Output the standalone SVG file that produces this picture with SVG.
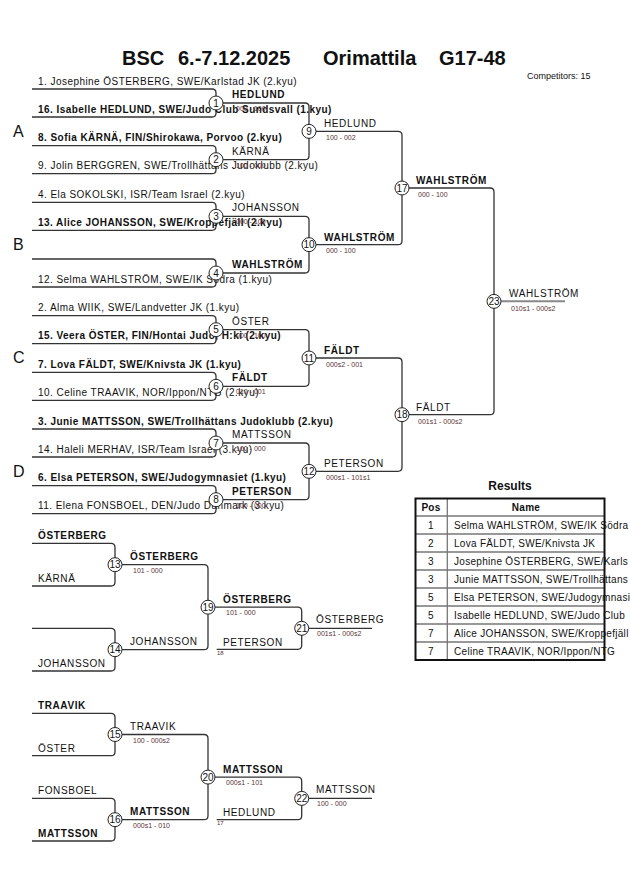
<svg xmlns="http://www.w3.org/2000/svg" width="630" height="891" viewBox="0 0 630 891">
<style>
text{font-family:"Liberation Sans",Arial,sans-serif;fill:#111}
.ln{fill:none;stroke:#333;stroke-width:1.3}
.c{fill:#fff;stroke:#222;stroke-width:1}
.n{font-size:10px;text-anchor:middle}
.e{font-size:10px;letter-spacing:0.45px}
.r{font-size:10px;letter-spacing:0.3px}
.b{font-weight:bold}
.w{font-size:10px;letter-spacing:0.6px}
.s{font-size:7px;fill:#5a3434}
.t{font-size:6px;fill:#5a3434}
.pl{font-size:16px}
.tg{fill:none;stroke:#777;stroke-width:1.3}
</style>
<rect width="630" height="891" fill="#fff"/>
<g id="title">
<text x="122" y="65" font-size="20" font-weight="bold">BSC</text>
<text x="178" y="65" font-size="20" font-weight="bold">6.-7.12.2025</text>
<text x="323" y="65" font-size="20" font-weight="bold">Orimattila</text>
<text x="439" y="65" font-size="20" font-weight="bold">G17-48</text>
<text x="527" y="79" font-size="9">Competitors: 15</text>
</g>
<g id="pools">
<text class="pl" x="13" y="136.7">A</text>
<text class="pl" x="13" y="250">B</text>
<text class="pl" x="13" y="363">C</text>
<text class="pl" x="13" y="476.5">D</text>
</g>
<g id="connectors">
<path class="ln" d="M32 89H212Q216 89 216 93V113Q216 117 212 117H32"/>
<path class="ln" d="M32 145.7H212Q216 145.7 216 149.7V169.7Q216 173.7 212 173.7H32"/>
<path class="ln" d="M32 202.3H212Q216 202.3 216 206.3V226.3Q216 230.3 212 230.3H32"/>
<path class="ln" d="M32 259H212Q216 259 216 263V283Q216 287 212 287H32"/>
<path class="ln" d="M32 315.7H212Q216 315.7 216 319.7V339.7Q216 343.7 212 343.7H32"/>
<path class="ln" d="M32 372.3H212Q216 372.3 216 376.3V396.3Q216 400.3 212 400.3H32"/>
<path class="ln" d="M32 429H212Q216 429 216 433V453Q216 457 212 457H32"/>
<path class="ln" d="M32 485.7H212Q216 485.7 216 489.7V509.7Q216 513.7 212 513.7H32"/>
<path class="ln" d="M223 103H305Q309 103 309 107V155.7Q309 159.7 305 159.7H223"/>
<path class="ln" d="M223 216.3H305Q309 216.3 309 220.3V269Q309 273 305 273H223"/>
<path class="ln" d="M223 329.7H305Q309 329.7 309 333.7V382.3Q309 386.3 305 386.3H223"/>
<path class="ln" d="M223 443H305Q309 443 309 447V495.7Q309 499.7 305 499.7H223"/>
<path class="ln" d="M316 131.35H398Q402 131.35 402 135.35V240.65Q402 244.65 398 244.65H316"/>
<path class="ln" d="M316 358H398Q402 358 402 362V467.35Q402 471.35 398 471.35H316"/>
<path class="ln" d="M409 188H490Q494 188 494 192V410.7Q494 414.7 490 414.7H409"/>
<path fill="none" stroke="#888" stroke-width="2" d="M501 301.35H565"/>
<path class="ln" d="M32 543.3H111Q115 543.3 115 547.3V582Q115 586 111 586H32"/>
<path class="ln" d="M32 628.3H111Q115 628.3 115 632.3V667Q115 671 111 671H32"/>
<path class="ln" d="M122 564.7H204Q208 564.7 208 568.7V645.7Q208 649.7 204 649.7H122"/>
<path class="ln" d="M215 607.2H297.7Q301.7 607.2 301.7 611.2V645.3Q301.7 649.3 297.7 649.3H216.7"/>
<path class="ln" d="M308.7 628.3H372"/>
<path class="ln" d="M32 713.3H111Q115 713.3 115 717.3V751.7Q115 755.7 111 755.7H32"/>
<path class="ln" d="M32 798.3H111Q115 798.3 115 802.3V837Q115 841 111 841H32"/>
<path class="ln" d="M122 734.5H204Q208 734.5 208 738.5V815.7Q208 819.7 204 819.7H122"/>
<path class="ln" d="M215 777.1H297.7Q301.7 777.1 301.7 781.1V815.7Q301.7 819.7 297.7 819.7H216.7"/>
<path class="ln" d="M308.7 798.4H372"/>
</g>
<g id="entries">
<text class="e" x="38" y="84.5">1. Josephine ÖSTERBERG, SWE/Karlstad JK (2.kyu)</text>
<text class="e b" x="38" y="112.5">16. Isabelle HEDLUND, SWE/Judo Club Sundsvall (1.kyu)</text>
<text class="e b" x="38" y="141.2">8. Sofia KÄRNÄ, FIN/Shirokawa, Porvoo (2.kyu)</text>
<text class="e" x="38" y="169.2">9. Jolin BERGGREN, SWE/Trollhättans Judoklubb (2.kyu)</text>
<text class="e" x="38" y="197.8">4. Ela SOKOLSKI, ISR/Team Israel (2.kyu)</text>
<text class="e b" x="38" y="225.8">13. Alice JOHANSSON, SWE/Kroppefjäll (2.kyu)</text>
<text class="e" x="38" y="282.5">12. Selma WAHLSTRÖM, SWE/IK Södra (1.kyu)</text>
<text class="e" x="38" y="311.2">2. Alma WIIK, SWE/Landvetter JK (1.kyu)</text>
<text class="e b" x="38" y="339.2">15. Veera ÖSTER, FIN/Hontai Judo, H:ki (2.kyu)</text>
<text class="e b" x="38" y="367.8">7. Lova FÄLDT, SWE/Knivsta JK (1.kyu)</text>
<text class="e" x="38" y="395.8">10. Celine TRAAVIK, NOR/Ippon/NTG (2.kyu)</text>
<text class="e b" x="38" y="424.5">3. Junie MATTSSON, SWE/Trollhättans Judoklubb (2.kyu)</text>
<text class="e" x="38" y="452.5">14. Haleli MERHAV, ISR/Team Israel (3.kyu)</text>
<text class="e b" x="38" y="481.2">6. Elsa PETERSON, SWE/Judogymnasiet (1.kyu)</text>
<text class="e" x="38" y="509.2">11. Elena FONSBOEL, DEN/Judo Danmark (3.kyu)</text>
</g>
<g id="winners">
<text class="w b" x="232" y="98">HEDLUND</text>
<text class="s" x="236" y="111">000 - 100</text>
<text class="w" x="232" y="154.7">KÄRNÄ</text>
<text class="s" x="236" y="167.7">100 - 000</text>
<text class="w" x="232" y="211.3">JOHANSSON</text>
<text class="s" x="236" y="224.3">000 - 100</text>
<text class="w b" x="232" y="268">WAHLSTRÖM</text>
<text class="w" x="232" y="324.7">ÖSTER</text>
<text class="s" x="236" y="337.7">000 - 100</text>
<text class="w b" x="232" y="381.3">FÄLDT</text>
<text class="s" x="236" y="394.3">010 - 001</text>
<text class="w" x="232" y="438">MATTSSON</text>
<text class="s" x="236" y="451">100 - 000</text>
<text class="w b" x="232" y="494.7">PETERSON</text>
<text class="s" x="236" y="507.7">100 - 000</text>
<text class="w" x="324" y="127.4">HEDLUND</text>
<text class="s" x="326" y="140">100 - 002</text>
<text class="w b" x="324" y="240.7">WAHLSTRÖM</text>
<text class="s" x="326" y="253.2">000 - 100</text>
<text class="w b" x="324" y="354">FÄLDT</text>
<text class="s" x="326" y="366.5">000s2 - 001</text>
<text class="w" x="324" y="467.4">PETERSON</text>
<text class="s" x="326" y="479.9">000s1 - 101s1</text>
<text class="w b" x="416" y="184">WAHLSTRÖM</text>
<text class="s" x="418" y="196.5">000 - 100</text>
<text class="w" x="416" y="411">FÄLDT</text>
<text class="s" x="418" y="423.5">001s1 - 000s2</text>
<text class="w" x="509" y="296.8">WAHLSTRÖM</text>
<text class="s" x="511" y="310.5">010s1 - 000s2</text>
</g>
<g id="repechage">
<text class="w b" x="38" y="538.5">ÖSTERBERG</text>
<text class="w" x="38" y="581.5">KÄRNÄ</text>
<text class="w" x="38" y="666.5">JOHANSSON</text>
<text class="w b" x="130" y="560">ÖSTERBERG</text>
<text class="s" x="133" y="573">101 - 000</text>
<text class="w" x="130" y="645">JOHANSSON</text>
<text class="w b" x="223" y="602.7">ÖSTERBERG</text>
<text class="s" x="226" y="614.5">101 - 000</text>
<text class="w" x="223" y="645.5">PETERSON</text>
<text class="t" x="217" y="655">18</text>
<text class="w" x="316" y="623">ÖSTERBERG</text>
<text class="s" x="317" y="636">001s1 - 000s2</text>
<text class="w b" x="38" y="709">TRAAVIK</text>
<text class="w" x="38" y="751.5">ÖSTER</text>
<text class="w" x="38" y="794">FONSBOEL</text>
<text class="w b" x="38" y="836.5">MATTSSON</text>
<text class="w" x="130" y="730">TRAAVIK</text>
<text class="s" x="133" y="743">100 - 000s2</text>
<text class="w b" x="130" y="815">MATTSSON</text>
<text class="s" x="133" y="828">000s1 - 010</text>
<text class="w b" x="223" y="772.7">MATTSSON</text>
<text class="s" x="226" y="784.5">000s1 - 101</text>
<text class="w" x="223" y="816">HEDLUND</text>
<text class="t" x="217" y="825">17</text>
<text class="w" x="316" y="793">MATTSSON</text>
<text class="s" x="317" y="806">100 - 000</text>
</g>
<g id="m1"><circle class="c" cx="216" cy="103" r="7"/><text class="n" x="216" y="106.6">1</text></g>
<g id="m2"><circle class="c" cx="216" cy="159.7" r="7"/><text class="n" x="216" y="163.3">2</text></g>
<g id="m3"><circle class="c" cx="216" cy="216.3" r="7"/><text class="n" x="216" y="219.9">3</text></g>
<g id="m4"><circle class="c" cx="216" cy="273" r="7"/><text class="n" x="216" y="276.6">4</text></g>
<g id="m5"><circle class="c" cx="216" cy="329.7" r="7"/><text class="n" x="216" y="333.3">5</text></g>
<g id="m6"><circle class="c" cx="216" cy="386.3" r="7"/><text class="n" x="216" y="389.9">6</text></g>
<g id="m7"><circle class="c" cx="216" cy="443" r="7"/><text class="n" x="216" y="446.6">7</text></g>
<g id="m8"><circle class="c" cx="216" cy="499.7" r="7"/><text class="n" x="216" y="503.3">8</text></g>
<g id="m9"><circle class="c" cx="309" cy="131.35" r="7"/><text class="n" x="309" y="134.95">9</text></g>
<g id="m10"><circle class="c" cx="309" cy="244.65" r="7"/><text class="n" x="309" y="248.25">10</text></g>
<g id="m11"><circle class="c" cx="309" cy="358" r="7"/><text class="n" x="309" y="361.6">11</text></g>
<g id="m12"><circle class="c" cx="309" cy="471.35" r="7"/><text class="n" x="309" y="474.95">12</text></g>
<g id="m17"><circle class="c" cx="402" cy="188" r="7"/><text class="n" x="402" y="191.6">17</text></g>
<g id="m18"><circle class="c" cx="402" cy="414.7" r="7"/><text class="n" x="402" y="418.3">18</text></g>
<g id="m23"><circle class="c" cx="494" cy="301.35" r="7"/><text class="n" x="494" y="304.95">23</text></g>
<g id="m13"><circle class="c" cx="115" cy="564.7" r="7"/><text class="n" x="115" y="568.3">13</text></g>
<g id="m14"><circle class="c" cx="115" cy="649.7" r="7"/><text class="n" x="115" y="653.3">14</text></g>
<g id="m19"><circle class="c" cx="208" cy="607.2" r="7"/><text class="n" x="208" y="610.8">19</text></g>
<g id="m21"><circle class="c" cx="301.7" cy="628.3" r="7"/><text class="n" x="301.7" y="631.9">21</text></g>
<g id="m15"><circle class="c" cx="115" cy="734.5" r="7"/><text class="n" x="115" y="738.1">15</text></g>
<g id="m16"><circle class="c" cx="115" cy="819.7" r="7"/><text class="n" x="115" y="823.3">16</text></g>
<g id="m20"><circle class="c" cx="208" cy="777.1" r="7"/><text class="n" x="208" y="780.7">20</text></g>
<g id="m22"><circle class="c" cx="301.7" cy="798.4" r="7"/><text class="n" x="301.7" y="802">22</text></g>
<g id="results">
<text x="510" y="489.5" font-size="12" font-weight="bold" text-anchor="middle">Results</text>
<text class="r b" x="431" y="511" text-anchor="middle">Pos</text>
<text class="r b" x="526" y="511" text-anchor="middle">Name</text>
<g class="r" text-anchor="middle">
<text x="431" y="529">1</text><text x="431" y="547">2</text><text x="431" y="565">3</text><text x="431" y="583">3</text>
<text x="431" y="601">5</text><text x="431" y="619">5</text><text x="431" y="637">7</text><text x="431" y="655">7</text>
</g>
<g class="r">
<text x="454" y="529">Selma WAHLSTRÖM, SWE/IK Södra</text>
<text x="454" y="547">Lova FÄLDT, SWE/Knivsta JK</text>
<text x="454" y="565">Josephine ÖSTERBERG, SWE/Karls</text>
<text x="454" y="583">Junie MATTSSON, SWE/Trollhättans</text>
<text x="454" y="601">Elsa PETERSON, SWE/Judogymnasi</text>
<text x="454" y="619">Isabelle HEDLUND, SWE/Judo Club</text>
<text x="454" y="637">Alice JOHANSSON, SWE/Kroppefjäll</text>
<text x="454" y="655">Celine TRAAVIK, NOR/Ippon/NTG</text>
</g>
<path class="tg" d="M415 516H604M415 534H604M415 552H604M415 570H604M415 588H604M415 606H604M415 624H604M415 642H604M447.3 498V660"/>
<rect x="415.5" y="498.5" width="189" height="161.5" fill="none" stroke="#111" stroke-width="2"/>
</g>
</svg>
